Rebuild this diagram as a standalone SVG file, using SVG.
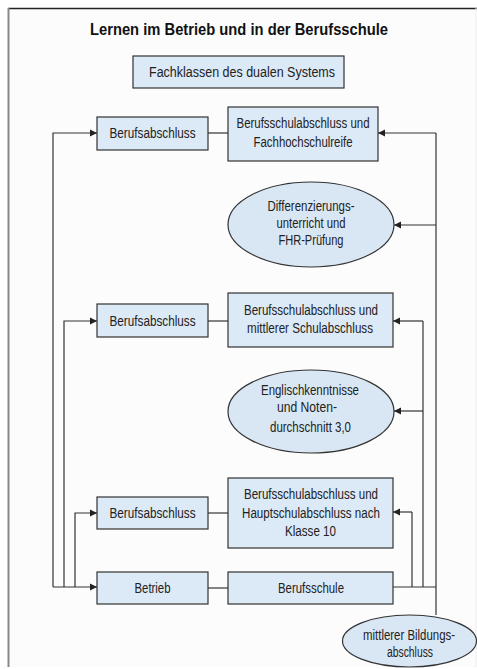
<svg xmlns="http://www.w3.org/2000/svg" width="477" height="669" viewBox="0 0 477 669">
<defs>
<marker id="arr" markerUnits="userSpaceOnUse" markerWidth="8" markerHeight="8" refX="7" refY="4" orient="auto">
<path d="M0,0.5 L7,4 L0,7.5 Z" fill="#222"/>
</marker>
</defs>
<style>
.box{fill:#dce9f6;stroke:#333;stroke-width:1.2}
.ell{fill:#d9e7f4;stroke:#333;stroke-width:1.2}
.t{font-family:"Liberation Sans",Arial,sans-serif;font-size:14px;fill:#222;text-anchor:middle}
.ttl{font-family:"Liberation Sans",Arial,sans-serif;font-size:17px;font-weight:bold;fill:#111;text-anchor:middle}
.c{fill:none;stroke:#333;stroke-width:1.2}
.ca{fill:none;stroke:#333;stroke-width:1.2;marker-end:url(#arr)}
</style>
<rect x="0" y="0" width="477" height="669" fill="#ffffff"/>
<rect x="8" y="8" width="470" height="659" fill="#fcfcfc"/>
<line x1="8" y1="8.5" x2="477" y2="8.5" stroke="#222" stroke-width="1.5"/>
<line x1="8.5" y1="8" x2="8.5" y2="667" stroke="#888" stroke-width="2"/>
<line x1="476" y1="8" x2="476" y2="667" stroke="#eee" stroke-width="1"/>
<text class="ttl" x="239" y="35" textLength="298" lengthAdjust="spacingAndGlyphs">Lernen im Betrieb und in der Berufsschule</text>

<g id="connectors">
<line class="c" x1="208" y1="133" x2="228" y2="133"/>
<line class="c" x1="208" y1="321" x2="228" y2="321"/>
<line class="c" x1="208" y1="513" x2="228" y2="513"/>
<line class="c" x1="208" y1="588" x2="228" y2="588"/>
<path class="ca" d="M53,587 V133 H97"/>
<path class="ca" d="M64,587 V321 H97"/>
<path class="ca" d="M75,587 V513 H97"/>
<path class="ca" d="M53,587 H97"/>
<path class="c" d="M393,587 H436"/>
<path class="c" d="M436,615 V133"/>
<path class="ca" d="M436,133 H378"/>
<path class="ca" d="M436,225 H394"/>
<path class="c" d="M423,587 V321"/>
<path class="ca" d="M423,321 H393"/>
<path class="ca" d="M423,411 H394"/>
<path class="c" d="M412,587 V512"/>
<path class="ca" d="M412,512 H393"/>
</g>

<g id="fachklassen">
<rect class="box" x="133" y="56" width="211" height="32"/>
<text class="t" x="242" y="77" textLength="186" lengthAdjust="spacingAndGlyphs">Fachklassen des dualen Systems</text>
</g>

<g id="berufsabschluss1">
<rect class="box" x="97" y="117" width="111" height="33"/>
<text class="t" x="152.5" y="138" textLength="86" lengthAdjust="spacingAndGlyphs">Berufsabschluss</text>
</g>
<g id="bsa-fhr">
<rect class="box" x="228" y="107" width="150" height="54"/>
<text class="t" x="303" y="128" textLength="133" lengthAdjust="spacingAndGlyphs">Berufsschulabschluss und</text>
<text class="t" x="303" y="147" textLength="99" lengthAdjust="spacingAndGlyphs">Fachhochschulreife</text>
</g>
<g id="differenzierung">
<ellipse class="ell" cx="311" cy="224.5" rx="83" ry="42.5"/>
<text class="t" x="311" y="211" textLength="87" lengthAdjust="spacingAndGlyphs">Differenzierungs-</text>
<text class="t" x="311" y="228" textLength="69" lengthAdjust="spacingAndGlyphs">unterricht und</text>
<text class="t" x="311" y="245" textLength="65" lengthAdjust="spacingAndGlyphs">FHR-Prüfung</text>
</g>

<g id="berufsabschluss2">
<rect class="box" x="97" y="304" width="111" height="33"/>
<text class="t" x="152.5" y="326" textLength="86" lengthAdjust="spacingAndGlyphs">Berufsabschluss</text>
</g>
<g id="bsa-msa">
<rect class="box" x="228" y="293" width="165" height="54"/>
<text class="t" x="311" y="315" textLength="134" lengthAdjust="spacingAndGlyphs">Berufsschulabschluss und</text>
<text class="t" x="310" y="333" textLength="126" lengthAdjust="spacingAndGlyphs">mittlerer Schulabschluss</text>
</g>
<g id="englisch">
<ellipse class="ell" cx="311" cy="411.5" rx="83" ry="41.5"/>
<text class="t" x="310" y="395" textLength="98" lengthAdjust="spacingAndGlyphs">Englischkenntnisse</text>
<text class="t" x="307" y="412" textLength="60" lengthAdjust="spacingAndGlyphs">und Noten-</text>
<text class="t" x="310.5" y="432" textLength="81" lengthAdjust="spacingAndGlyphs">durchschnitt 3,0</text>
</g>

<g id="berufsabschluss3">
<rect class="box" x="97" y="497" width="111" height="32"/>
<text class="t" x="152.5" y="518" textLength="86" lengthAdjust="spacingAndGlyphs">Berufsabschluss</text>
</g>
<g id="bsa-hsa">
<rect class="box" x="228" y="478" width="165" height="70"/>
<text class="t" x="311" y="499" textLength="134" lengthAdjust="spacingAndGlyphs">Berufsschulabschluss und</text>
<text class="t" x="311" y="518" textLength="138" lengthAdjust="spacingAndGlyphs">Hauptschulabschluss nach</text>
<text class="t" x="310.5" y="536" textLength="51" lengthAdjust="spacingAndGlyphs">Klasse 10</text>
</g>

<g id="betrieb">
<rect class="box" x="97" y="572" width="111" height="32"/>
<text class="t" x="152.5" y="593" textLength="36" lengthAdjust="spacingAndGlyphs">Betrieb</text>
</g>
<g id="berufsschule">
<rect class="box" x="228" y="572" width="165" height="32"/>
<text class="t" x="311" y="593" textLength="66" lengthAdjust="spacingAndGlyphs">Berufsschule</text>
</g>
<g id="mittlerer-bildungsabschluss">
<ellipse class="ell" cx="409.5" cy="641" rx="67" ry="26"/>
<text class="t" x="409" y="640" textLength="92" lengthAdjust="spacingAndGlyphs">mittlerer Bildungs-</text>
<text class="t" x="410" y="657" textLength="46" lengthAdjust="spacingAndGlyphs">abschluss</text>
</g>
</svg>
